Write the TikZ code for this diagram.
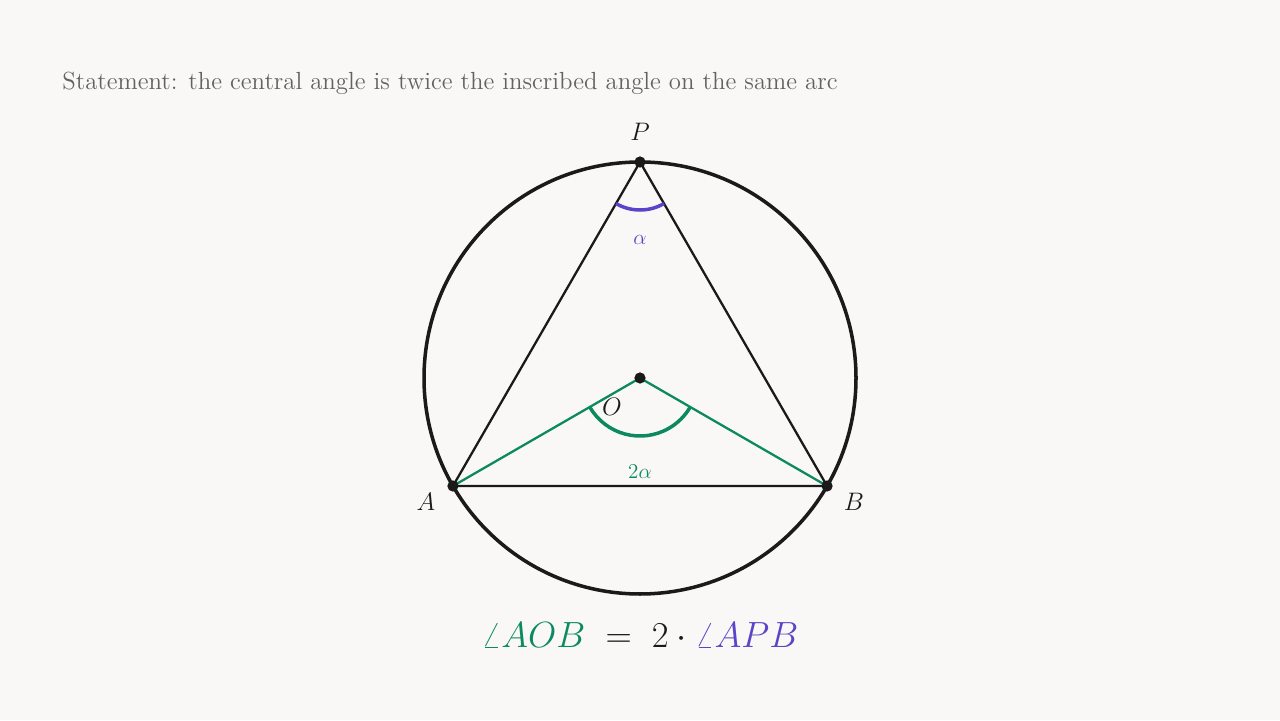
\documentclass[tikz,border=0pt]{standalone}
\usepackage{tikz}
\usetikzlibrary{arrows}

\definecolor{paper}{HTML}{F9F8F6}
\definecolor{ink}{HTML}{1A1A1A}
\definecolor{note}{HTML}{626262}
\definecolor{central}{HTML}{0B8A62}
\definecolor{inscribed}{HTML}{5C44C8}

\begin{document}
\begin{tikzpicture}[x=0.02cm,y=0.02cm,
  point/.style={circle,fill=ink,inner sep=0pt,minimum size=6.4pt},
  label text/.style={text=ink,font=\fontsize{14}{16}\selectfont},
  chord/.style={draw=ink,line width=1.3pt},
  radius line/.style={draw=central,line width=1.3pt}]

  \fill[paper] (0,0) rectangle (1280,720);
  \useasboundingbox (0,0) rectangle (1280,720);

  \node[anchor=base west,inner sep=0pt,text=note,font=\fontsize{14.1}{17}\selectfont]
    (statement) at (62,630)
    {Statement: the central angle is twice the inscribed angle on the same arc};

  \coordinate (O) at (640,342);
  \coordinate (P) at ([shift={(90:216)}]O);
  \coordinate (A) at ([shift={(210:216)}]O);
  \coordinate (B) at ([shift={(330:216)}]O);

  % circle and inscribed triangle
  \draw[ink,line width=2pt] (O) circle (216);
  \path[chord] (A) -- (P) -- (B) -- (A);
  \path[radius line] (A) -- (O) -- (B);

  % angle marks
  \draw[inscribed,line width=2pt] ([shift={(240:48)}]P) arc (240:300:48);
  \draw[central,line width=2pt] ([shift={(210:58)}]O) arc (210:330:58);

  \node[point] (o) at (O) {};
  \node[point] (p) at (P) {};
  \node[point] (a) at (A) {};
  \node[point] (b) at (B) {};

  \node[label text] (Plabel) at (640,588) {$P$};
  \node[label text] (Olabel) at (612,313) {$O$};
  \node[label text] (Alabel) at (426,218) {$A$};
  \node[label text] (Blabel) at (854,218) {$B$};
  \node[text=inscribed,font=\fontsize{13}{15}\selectfont] (alpha) at (640,480) {$\alpha$};
  \node[text=central,font=\fontsize{13}{15}\selectfont] (twoalpha) at (640,248) {$2\alpha$};

  \node[text=ink,font=\fontsize{20}{24}\selectfont] (formula) at (640,85)
    {$\color{central}\angle AOB\;\color{ink}=\;2\cdot\color{inscribed}\angle APB$};
\end{tikzpicture}
\end{document}
